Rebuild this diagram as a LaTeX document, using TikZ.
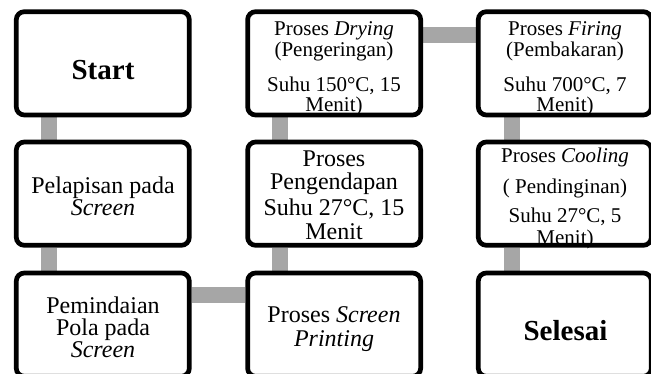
\documentclass[tikz,border=0pt]{standalone}
\usepackage{fontspec}
\setmainfont{Liberation Serif}
\usetikzlibrary{backgrounds}
\definecolor{conngray}{HTML}{A6A6A6}
\tikzset{
  box/.style={draw=black, fill=white, line width=4.7pt, rounded corners=8pt,
    minimum width=173pt, minimum height=103.3pt, inner sep=0pt},
  conn/.style={draw=conngray, line width=16pt},
  tl/.style={anchor=base, inner sep=0pt, font=\fontsize{24}{26}\selectfont},
  ts/.style={anchor=base, inner sep=0pt, font=\fontsize{21}{23}\selectfont},
  tb/.style={anchor=base, inner sep=0pt, font=\fontsize{29}{31}\selectfont\bfseries}
}
\begin{document}
\begin{tikzpicture}[x=1pt,y=-1pt]
\useasboundingbox (0,0) rectangle (651,374);
% boxes
\node[box] (start) at (102.8,63.35) {};
\node[box] (pel)   at (102.8,193.65) {};
\node[box] (pem)   at (102.8,324.65) {};
\node[box] (dry)   at (334.15,63.35) {};
\node[box] (peng)  at (334.15,193.65) {};
\node[box] (spr)   at (334.15,324.65) {};
\node[box] (fir)   at (564.8,63.35) {};
\node[box] (cool)  at (564.8,193.65) {};
\node[box] (sel)   at (564.8,324.65) {};
% connectors
\begin{scope}[on background layer]
\draw[conn] ([xshift=35pt]start.south west) -- ([xshift=35pt]pel.north west);
\draw[conn] ([xshift=35pt]pel.south west) -- ([xshift=35pt]pem.north west);
\draw[conn] ([yshift=-24.5pt]pem.north east) -- ([yshift=-24.5pt]spr.north west);
\draw[conn] ([xshift=35pt]spr.north west) -- ([xshift=35pt]peng.south west);
\draw[conn] ([xshift=35pt]peng.north west) -- ([xshift=35pt]dry.south west);
\draw[conn] ([yshift=-26pt]dry.north east) -- ([yshift=-26pt]fir.north west);
\draw[conn] ([xshift=36pt]fir.south west) -- ([xshift=36pt]cool.north west);
\draw[conn] ([xshift=36pt]cool.south west) -- ([xshift=36pt]sel.north west);
\end{scope}
% texts
\node[tb] (tstart) at (103,80) {Start};
\node[tl] (tpel1) at (103,194) {Pelapisan pada};
\node[tl] (tpel2) at (103,216) {\textit{Screen}};
\node[tl] (tpem1) at (103,313) {Pemindaian};
\node[tl] (tpem2) at (103,335) {Pola pada};
\node[tl] (tpem3) at (103,357) {\textit{Screen}};
\node[tl] (tspr1) at (334,323) {Proses \textit{Screen}};
\node[tl] (tspr2) at (334,346) {\textit{Printing}};
\node[tl] (tpeng1) at (334,167) {Proses};
\node[tl] (tpeng2) at (334,190) {Pengendapan};
\node[tl] (tpeng3) at (334,216) {Suhu 27°C, 15};
\node[tl] (tpeng4) at (334,240) {Menit};
\node[ts] (tdry1) at (334,36) {Proses \textit{Drying}};
\node[ts] (tdry2) at (334,57) {(Pengeringan)};
\node[ts] (tdry3) at (334,92) {Suhu 150°C, 15};
\node[ts] (tdry4) at (334,112) {Menit)};
\node[ts] (tfir1) at (565,36) {Proses \textit{Firing}};
\node[ts] (tfir2) at (565,57) {(Pembakaran)};
\node[ts] (tfir3) at (565,92) {Suhu 700°C, 7};
\node[ts] (tfir4) at (565,112) {Menit)};
\node[ts] (tcool1) at (565,163) {Proses \textit{Cooling}};
\node[ts] (tcool2) at (565,194) {( Pendinginan)};
\node[ts] (tcool3) at (565,223) {Suhu 27°C, 5};
\node[ts] (tcool4) at (565,245) {Menit)};
\node[tb] (tsel) at (565.5,341) {Selesai};
\end{tikzpicture}
\end{document}
